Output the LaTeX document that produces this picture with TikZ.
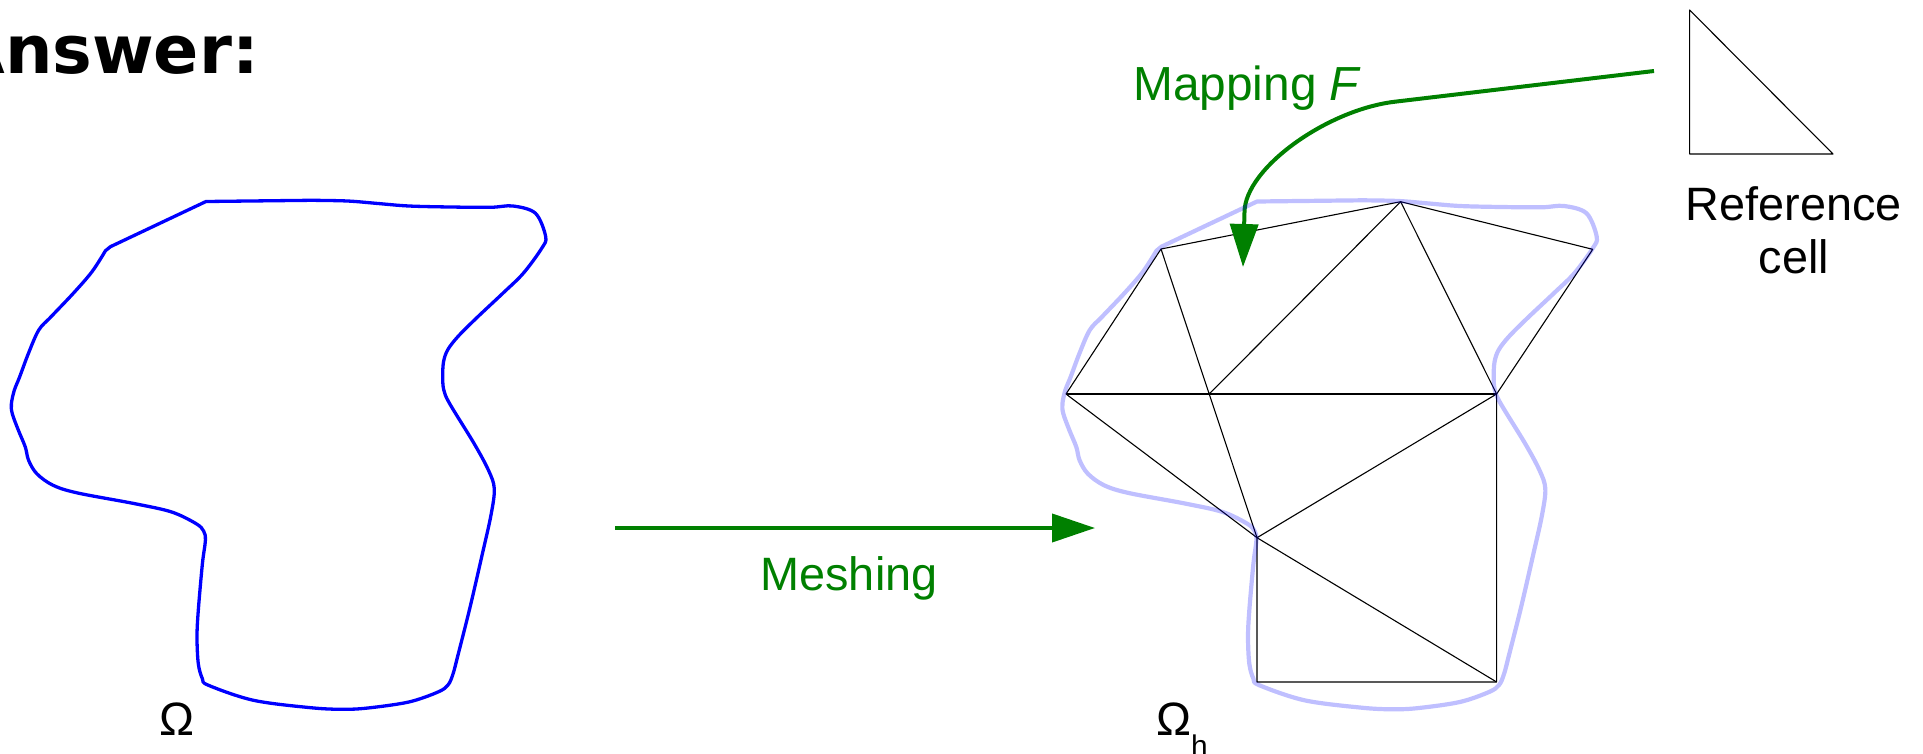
\documentclass[tikz,border=0pt]{standalone}
\usepackage{fontspec}
\setmainfont{Liberation Sans}
\newfontfamily\answerfont{DejaVu Sans}
\usetikzlibrary{arrows.meta}
\definecolor{grn}{RGB}{0,128,0}
\newcommand{\blobpath}[1]{%
\draw[#1] (206,201.5) -- (311,200.3) -- plot[smooth, tension=0.55] coordinates {(311,200.3) (347.5,201) (378,203.5) (408.8,206) (450,207) (490.6,207.3) (513,206) (535.5,213.3) (545.7,236.7) (541.7,248.3) (523.3,273.3) (502.8,293.3) (476.2,318.3) (457.8,336.7) (447.6,350) (443.5,362) (442.7,377) (443.8,390) (449.7,403.7) (474.2,443.7) (488.5,470.3) (494.3,488.7) (491,515) (482.4,553.7) (470.1,607) (458,655) (453,674) (448,685) (438,692) (408.8,702) (367.9,708) (342.6,709.3) (310.7,707.7) (253.5,700.3) (208.5,685.3) (202.4,678.7) (198.3,663.7) (197,637) (198.3,610.3) (202.4,563.7) (205.4,540.3) (203.6,531) (196.2,523.7) (171.7,512) (134.9,503.7) (77.7,493) (53.1,485.3) (36.8,473.7) (28.6,460.3) (25.3,447) (18.4,430.3) (12.3,413.7) (11.4,403.7) (14.3,390.3) (19.6,377) (28.6,353) (38.8,330) (51.1,316.7) (73.6,293) (92,271.7) (105.5,250.7)} -- (110.4,246.7) -- cycle;}
\begin{document}
\begin{tikzpicture}[x=1bp,y=-1bp,
  blobline/.style={draw=blue, line width=3.3bp, line join=round},
  blobh/.style={draw=blue, draw opacity=0.25, line width=4.2bp, line join=round},
  meshline/.style={draw=black, line width=1.1bp, line join=round},
  greenarrow/.style={draw=grn, line width=4bp, -{Triangle[length=43bp,width=28bp]}},
  lbl/.style={inner sep=0pt, font=\fontsize{47}{52}\selectfont}]
\useasboundingbox (0,0) rectangle (1923,754);
% title
\node[anchor=base east, inner sep=0pt, font=\answerfont\bfseries\fontsize{67}{72}\selectfont] (answer) at (259,73.5) {Answer:};
% left domain
\blobpath{blobline}
\node[lbl, anchor=base] (omega) at (177,735) {Ω};
% meshing arrow
\coordinate (meshS) at (615,528);
\coordinate (meshE) at (1095,528);
\draw[greenarrow] (meshS) -- (meshE);
\node[lbl, text=grn, anchor=base] (meshlbl) at (849,590) {Meshing};
% mesh vertices
\coordinate (L) at (1066,394);
\coordinate (TL) at (1161,249);
\coordinate (T) at (1400.6,201.7);
\coordinate (R) at (1592.7,249.3);
\coordinate (C) at (1209.2,394);
\coordinate (RM) at (1496.6,394);
\coordinate (BM) at (1257,537.7);
\coordinate (BL) at (1257,682);
\coordinate (BR) at (1496.6,682);
\draw[meshline] (L) -- (TL) -- (T) -- (R) -- (RM) -- (BR) -- (BL) -- (BM) -- (L) -- cycle;
\draw[meshline] (L) -- (C) -- (RM);
\draw[meshline] (TL) -- (C) -- (T) -- (RM) -- (BM) -- (C);
\draw[meshline] (BM) -- (BR);
% mapping arrow
\coordinate (mapS) at (1654,71);
\coordinate (mapK) at (1395,101.7);
\coordinate (mapV) at (1244.5,212);
\coordinate (mapE) at (1243,267);
\draw[greenarrow] (mapS) -- (mapK) .. controls (1327.5,109.6) and (1245,168) .. (mapV) -- (mapE);
\node[lbl, text=grn, anchor=base west, font=\fontsize{48}{52}\selectfont] (maplbl) at (1133,100) {Mapping \textit{F}};
% discrete domain outline
\begin{scope}[xshift=1051bp]
\blobpath{blobh}
\end{scope}
\node[lbl, anchor=base west] (omegah) at (1156,735) {Ω\raisebox{-21bp}{\fontsize{30}{30}\selectfont h}};
% reference cell
\coordinate (rA) at (1689.6,10);
\coordinate (rB) at (1689.6,154);
\coordinate (rC) at (1833,154);
\draw[meshline] (rA) -- (rB) -- (rC) -- cycle;
\node[lbl, anchor=base] (ref1) at (1794,220.7) {Reference};
\node[lbl, anchor=base] (ref2) at (1794,273.3) {cell};
\end{tikzpicture}
\end{document}
